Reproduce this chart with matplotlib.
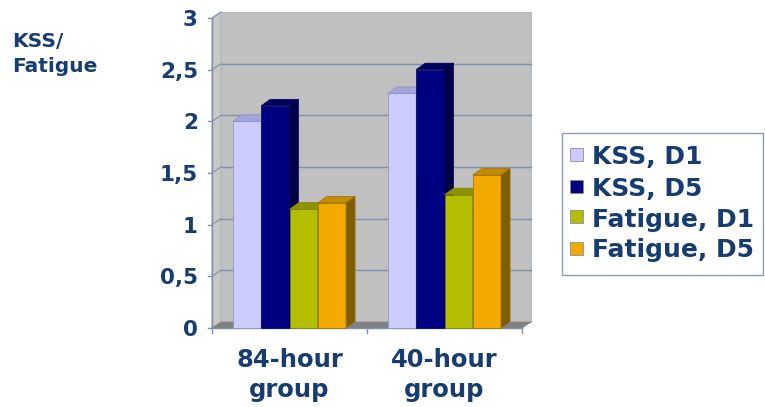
import matplotlib
matplotlib.use("Agg")
import matplotlib.pyplot as plt
from matplotlib.patches import Polygon, Rectangle

# ---- data -------------------------------------------------------------
groups = ["84-hour\ngroup", "40-hour\ngroup"]
series = ["KSS, D1", "KSS, D5", "Fatigue, D1", "Fatigue, D5"]
kss_d1 = [2.00, 2.27]
kss_d5 = [2.15, 2.50]
fat_d1 = [1.15, 1.29]
fat_d5 = [1.21, 1.48]
y_ticks = [0, 0.5, 1, 1.5, 2, 2.5, 3]
y_tick_labels = ["0", "0,5", "1", "1,5", "2", "2,5", "3"]

values = [kss_d1, kss_d5, fat_d1, fat_d5]

# ---- styling ----------------------------------------------------------
front = ["#CCCCFF", "#000080", "#B4BE00", "#F2AA00"]
top = ["#A3A6DA", "#000060", "#8C9500", "#C58C00"]
side = ["#9A9ACC", "#00004A", "#6E7500", "#7E5C00"]
edge = ["#8A8FC0", "#000050", "#7A8200", "#9A7000"]
text_color = "#173C70"
wall_color = "#C0C0C0"
grid_color = "#7F90AA"

W, H = 765, 407
fig = plt.figure(figsize=(W / 100, H / 100), dpi=100)

# axes box = front plane of the plot (pixel coordinates of the chart)
x0_px, x1_px = 212, 522
y0_px, y1_px = 328, 18
ax = fig.add_axes([x0_px / W, 1 - y0_px / H,
                   (x1_px - x0_px) / W, (y0_px - y1_px) / H])
ax.set_xlim(0, len(groups))
ax.set_ylim(0, 3)
ax.axis("off")

sx = len(groups) / (x1_px - x0_px)   # data units per pixel (x)
sy = 3 / (y0_px - y1_px)             # data units per pixel (y)

# wall depth offset
wdx, wdy = 9 * sx, 6 * sy
xmax = len(groups)
ymax = 3

# back wall
ax.add_patch(Polygon([(wdx, wdy), (xmax + wdx, wdy), (xmax + wdx, ymax + wdy),
                      (wdx, ymax + wdy)], closed=True, fc=wall_color,
                     ec="#B4B8C0", lw=0.8, zorder=1, clip_on=False))
# side wall
ax.add_patch(Polygon([(0, 0), (wdx, wdy), (wdx, ymax + wdy), (0, ymax)],
                     closed=True, fc="#C8C8C8", ec="#B4B8C0", lw=0.8,
                     zorder=1, clip_on=False))
# floor
ax.add_patch(Polygon([(0, 0), (xmax, 0), (xmax + wdx, wdy), (wdx, wdy)],
                     closed=True, fc="#808080", ec="#808080", lw=0.5,
                     zorder=2, clip_on=False))

# gridlines on wall and side wall
for t in y_ticks[1:-1]:
    ax.plot([wdx, xmax + wdx], [t + wdy, t + wdy], color=grid_color, lw=1.0,
            zorder=1.5, clip_on=False)
for t in y_ticks[1:]:
    ax.plot([0, wdx], [t, t + wdy], color=grid_color, lw=0.8,
            zorder=1.5, clip_on=False)

# axes lines and ticks
ax.plot([0, 0], [0, ymax], color=grid_color, lw=1.0, zorder=3, clip_on=False)
ax.plot([0, xmax], [0, 0], color=grid_color, lw=1.0, zorder=3, clip_on=False)
for t, lab in zip(y_ticks, y_tick_labels):
    ax.plot([-4 * sx, 0], [t, t], color=grid_color, lw=1.0, zorder=3,
            clip_on=False)
    ax.text(-14 * sx, t - 2 * sy, lab, ha="right", va="center",
            fontsize=15.5, fontweight="bold", color=text_color,
            family="DejaVu Sans")
for i in range(len(groups) + 1):
    ax.plot([i, i], [0, -5 * sy], color=grid_color, lw=1.0, zorder=3,
            clip_on=False)

# 3-D bars
bw = 0.1825
bdx, bdy = 9 * sx, 6.5 * sy
z = 4
for g in range(len(groups)):
    for s in range(len(series)):
        v = values[s][g]
        xl = g + 0.5 + (s - 2) * bw
        xr = xl + bw
        ax.add_patch(Polygon([(xl, 0), (xr, 0), (xr, v), (xl, v)], closed=True,
                             fc=front[s], ec=edge[s], lw=0.5, zorder=z,
                             clip_on=False))
        ax.add_patch(Polygon([(xl, v), (xr, v), (xr + bdx, v + bdy),
                              (xl + bdx, v + bdy)], closed=True, fc=top[s],
                             ec=edge[s], lw=0.5, zorder=z, clip_on=False))
        ax.add_patch(Polygon([(xr, 0), (xr + bdx, bdy), (xr + bdx, v + bdy),
                              (xr, v)], closed=True, fc=side[s], ec=edge[s],
                             lw=0.5, zorder=z, clip_on=False))
        z += 1

# category labels
for i, g in enumerate(groups):
    ax.text(i + 0.5, -20 * sy, g, ha="center", va="top", fontsize=17.5,
            fontweight="bold", color=text_color, linespacing=1.3,
            family="DejaVu Sans")

# y-axis title
fig.text(12 / W, 1 - 54 / H, "KSS/\nFatigue", ha="left", va="center",
         fontsize=14.5, fontweight="bold", color=text_color, linespacing=1.35,
         family="DejaVu Sans")

# legend
lx, ly, lw_, lh = 562, 133, 201, 142
fig.add_artist(Rectangle((lx / W, 1 - (ly + lh) / H), lw_ / W, lh / H,
                         transform=fig.transFigure, fc="white", ec="#8C9CB4",
                         lw=1.0))
row_y = [155, 186, 217, 248]
for s, name in enumerate(series):
    cy = row_y[s]
    fig.add_artist(Rectangle((570 / W, 1 - (cy + 6.5) / H), 13 / W, 13 / H,
                             transform=fig.transFigure, fc=front[s],
                             ec="#8A8FA8", lw=0.6))
    fig.text(592 / W, 1 - cy / H, name, ha="left", va="center_baseline",
             fontsize=18, fontweight="bold", color=text_color,
             family="DejaVu Sans")

fig.savefig("out.png", dpi=100)
